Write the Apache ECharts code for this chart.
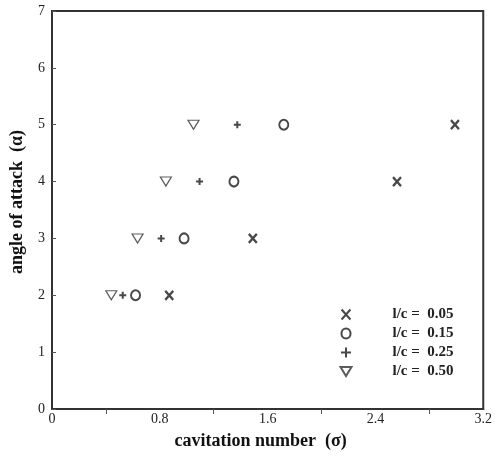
<!DOCTYPE html>
<html>
<head>
<meta charset="utf-8">
<script src="https://cdn.jsdelivr.net/npm/echarts@6/dist/echarts.min.js"></script>
<style>
  html, body { margin: 0; padding: 0; background: #fff; }
  #chart { width: 495px; height: 456px; }
</style>
</head>
<body>
<div id="chart"></div>
<script>
// angle of attack rows
const alpha = [2, 3, 4, 5];

// cavitation number at each angle, one array per l/c
const sigma005 = [0.87, 1.49, 2.56, 2.99];
const sigma015 = [0.62, 0.98, 1.35, 1.72];
const sigma025 = [0.525, 0.81, 1.095, 1.375];
const sigma050 = [0.44, 0.635, 0.845, 1.05];

const names = ['l/c =  0.05', 'l/c =  0.15', 'l/c =  0.25', 'l/c =  0.50'];

const xTicks = [0, 0.8, 1.6, 2.4, 3.2];

function pairs(xs) {
  return xs.map((x, i) => [x, alpha[i]]);
}

const ink = '#1a1a1a';
const serif = '"Liberation Serif", "DejaVu Serif", serif';

const chart = echarts.init(document.getElementById('chart'));

const option = {
  animation: false,
  grid: {
    left: 52, right: 10, top: 11, bottom: 47,
    show: true, borderColor: '#333', borderWidth: 2
  },
  legend: {
    orient: 'vertical',
    left: 333, top: 302,
    itemWidth: 11, itemHeight: 10,
    itemGap: 4,
    textStyle: {
      fontFamily: serif, fontWeight: 'bold', fontSize: 15,
      color: '#222', padding: [0, 0, 0, 36], lineHeight: 13
    },
    data: names
  },
  xAxis: {
    type: 'value',
    min: 0, max: 3.2, interval: 0.8,
    name: 'cavitation number  (\u03c3)',
    nameLocation: 'middle',
    nameGap: 23,
    nameTextStyle: {
      fontFamily: serif, fontWeight: 'bold', fontSize: 18, color: '#111',
      padding: [0, 14, 0, 0]
    },
    axisLine: { lineStyle: { color: '#333', width: 2 } },
    axisTick: { show: false },
    minorTick: { show: true, splitNumber: 2, length: 5, lineStyle: { color: '#555', width: 1 } },
    axisLabel: {
      margin: 3, fontFamily: serif, fontSize: 14, color: '#222',
      formatter: v => xTicks.some(t => Math.abs(t - v) < 1e-6) ? String(+v.toFixed(1)) : ''
    },
    splitLine: { show: false },
    minorSplitLine: { show: false }
  },
  yAxis: {
    type: 'value',
    min: 0, max: 7, interval: 1,
    name: 'angle of attack  (\u03b1)',
    nameLocation: 'middle',
    nameGap: 26,
    nameTextStyle: {
      fontFamily: serif, fontWeight: 'bold', fontSize: 18, color: '#111',
      padding: [0, 0, 0, 16]
    },
    axisLine: { lineStyle: { color: '#333', width: 2 } },
    axisTick: { inside: true, length: 4, lineStyle: { color: '#555', width: 1 } },
    axisLabel: { margin: 7, fontFamily: serif, fontSize: 14, color: '#222' },
    splitLine: { show: false }
  },
  series: [
    {
      name: names[0], type: 'scatter',
      symbol: 'path://M0,0L8,9M8,0L0,9', symbolSize: [8, 9],
      itemStyle: { color: 'none', borderColor: ink, borderWidth: 2.4 },
      data: pairs(sigma005)
    },
    {
      name: names[1], type: 'scatter',
      symbol: 'path://M0,5.5a5,5.5 0 1,0 10,0a5,5.5 0 1,0 -10,0z', symbolSize: [9, 10],
      itemStyle: { color: 'none', borderColor: ink, borderWidth: 2 },
      data: pairs(sigma015)
    },
    {
      name: names[2], type: 'scatter',
      symbol: 'path://M3.5,0L3.5,7M0,3.5L7,3.5', symbolSize: [7, 7],
      itemStyle: { color: 'none', borderColor: ink, borderWidth: 2 },
      data: pairs(sigma025)
    },
    {
      name: names[3], type: 'scatter',
      symbol: 'path://M0,0L11,0L5.5,9Z', symbolSize: [11, 9],
      itemStyle: { color: 'none', borderColor: '#333', borderWidth: 1.2 },
      data: pairs(sigma050)
    }
  ]
};

chart.setOption(option);
</script>
</body>
</html>
